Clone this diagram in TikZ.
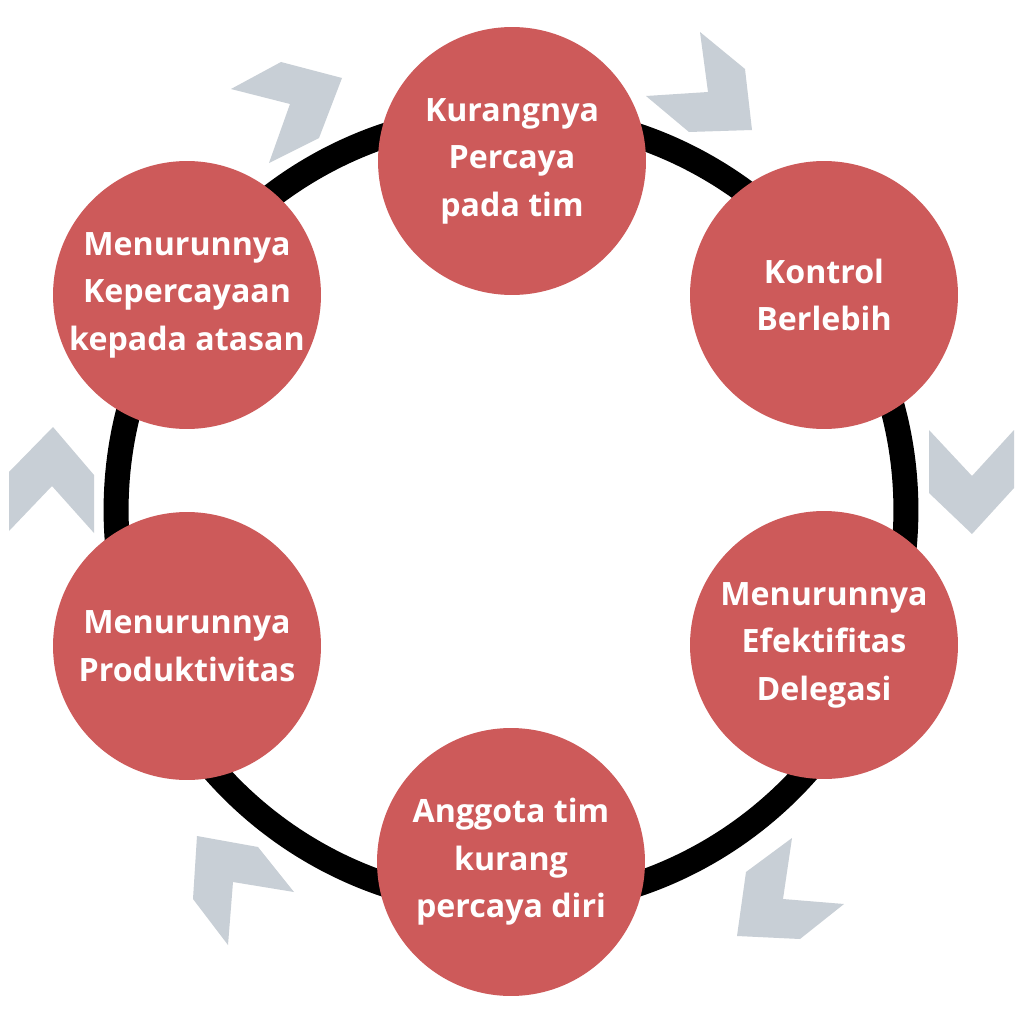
\documentclass[tikz,border=0pt]{standalone}
\usepackage{fontspec}
\setmainfont{Open Sans}
\usepackage{tikz}
\definecolor{cyclered}{HTML}{CD5A5A}
\definecolor{chevgrey}{HTML}{C8CFD6}

\begin{document}
\begin{tikzpicture}[
    x=0.02cm, y=-0.02cm,
    stage/.style={circle, fill=cyclered, text=white, align=center, minimum size=5.36cm, inner sep=0pt, font=\bfseries\fontsize{18.3}{27}\selectfont},
    ring/.style={line width=0.5cm, black},
    chevron/.style={fill=chevgrey}
]
\useasboundingbox[fill=white] (0,0) rectangle (1024,1024);

\coordinate (hub) at (511,510);
\draw[ring] (hub) circle[radius=7.9cm];

\node[stage] (trust) at (512,161) {Kurangnya\\Percaya\\pada tim};
\node[stage] (control) at (824,295) {Kontrol\\Berlebih};
\node[stage] (delegate) at (824,645) {Menurunnya\\Efektifitas\\Delegasi};
\node[stage] (confidence) at (511,862) {Anggota tim\\kurang\\percaya diri};
\node[stage] (output) at (187,646) {Menurunnya\\Produktivitas};
\node[stage] (boss) at (187,295) {Menurunnya\\Kepercayaan\\kepada atasan};

\fill[chevron] (231,89) -- (281,62) -- (342,78) -- (319,138) -- (269,163) -- (290,104) -- cycle;
\fill[chevron] (700,32) -- (745,69) -- (752,130) -- (689,132) -- (646,96) -- (708,92) -- cycle;
\fill[chevron] (929,430) -- (972,476) -- (1014,430) -- (1014,488) -- (972,534) -- (929,493) -- cycle;
\fill[chevron] (792,838) -- (783,899) -- (844,904) -- (800,939) -- (737,936) -- (746,872) -- cycle;
\fill[chevron] (197,836) -- (258,847) -- (294,892) -- (233,882) -- (228,945) -- (193,899) -- cycle;
\fill[chevron] (9,472) -- (53,427) -- (94,475) -- (94,533) -- (52,486) -- (9,531) -- cycle;
\end{tikzpicture}
\end{document}
